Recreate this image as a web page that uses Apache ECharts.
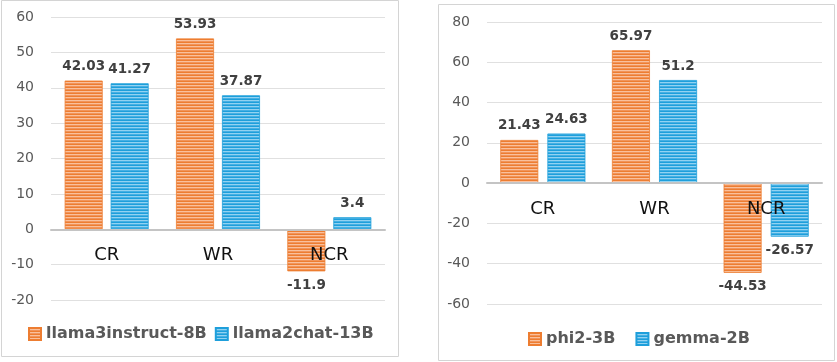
<!DOCTYPE html>
<html>
<head>
<meta charset="utf-8">
<script src="https://cdn.jsdelivr.net/npm/echarts@6/dist/echarts.min.js"></script>
<style>
  html, body { margin: 0; padding: 0; background: #fff; }
  #chart { width: 837px; height: 362px; }
</style>
</head>
<body>
<div id="chart"></div>
<script>
const categories = ['CR', 'WR', 'NCR']

const leftNames = ['llama3instruct-8B', 'llama2chat-13B']
const llama3Values = [42.03, 53.93, -11.9]
const llama2Values = [41.27, 37.87, 3.4]

const rightNames = ['phi2-3B', 'gemma-2B']
const phi2Values = [21.43, 65.97, -44.53]
const gemmaValues = [24.63, 51.2, -26.57]

// striped fill like the excel pattern
function stripes (rows) {
  const c = document.createElement('canvas')
  c.width = 4
  c.height = rows.length
  const ctx = c.getContext('2d')
  rows.forEach((col, i) => {
    ctx.fillStyle = col
    ctx.fillRect(0, i, 4, 1)
  })
  return { image: c, repeat: 'repeat' }
}

const orange = stripes(['#ED7D31', '#F9C09C', '#F19359'])
const blue = stripes(['#1E9FDB', '#92D2F1', '#45AFE3'])

const font = 'DejaVu Sans'

function valueAxis (idx, min, max, interval) {
  return {
    type: 'value',
    gridIndex: idx,
    min: min,
    max: max,
    interval: interval,
    axisLine: { show: false },
    axisTick: { show: false },
    axisLabel: { color: '#595959', fontSize: 14, fontFamily: font, margin: 17 },
    splitLine: { lineStyle: { color: '#E0E0E0', width: 1 } }
  }
}

// category axis moved up to the zero line with offset
function catAxis (idx, offset) {
  return {
    type: 'category',
    gridIndex: idx,
    data: categories,
    offset: offset,
    axisLine: { onZero: false, lineStyle: { color: '#C4C4C4', width: 2 } },
    axisTick: { show: false },
    axisLabel: { color: '#111', fontSize: 18, fontFamily: font, margin: 17 },
    z: 10
  }
}

function barSeries (name, data, fill, border, idx, gap) {
  return {
    name: name,
    type: 'bar',
    xAxisIndex: idx,
    yAxisIndex: idx,
    data: data,
    barWidth: 38,
    barGap: gap,
    z: 2,
    itemStyle: { color: fill, borderColor: border, borderWidth: 0.8 },
    label: {
      show: true,
      position: 'outside',
      distance: 7,
      color: '#404040',
      fontSize: 13.5,
      fontWeight: 'bold',
      fontFamily: font
    }
  }
}

const chart = echarts.init(document.getElementById('chart'))
chart.setOption({
  animation: false,
  graphic: [
    { type: 'rect', shape: { x: 1.5, y: 0.5, width: 397, height: 356 }, style: { fill: 'none', stroke: '#D4D4D4', lineWidth: 1 }, z: -1 },
    { type: 'rect', shape: { x: 438.5, y: 4.5, width: 396, height: 356 }, style: { fill: 'none', stroke: '#D4D4D4', lineWidth: 1 }, z: -1 }
  ],
  grid: [
    { left: 51, top: 17, width: 334, height: 283 },
    { left: 487, top: 22, width: 335, height: 282 }
  ],
  legend: [
    {
      data: leftNames,
      left: 23,
      top: 321,
      icon: 'rect',
      itemWidth: 12,
      itemHeight: 12,
      itemGap: 8,
      textStyle: { color: '#595959', fontSize: 16, fontWeight: 'bold', fontFamily: font }
    },
    {
      data: rightNames,
      left: 523,
      top: 326,
      icon: 'rect',
      itemWidth: 12,
      itemHeight: 12,
      itemGap: 20,
      textStyle: { color: '#595959', fontSize: 16, fontWeight: 'bold', fontFamily: font }
    }
  ],
  xAxis: [catAxis(0, -70.75), catAxis(1, -120.86)],
  yAxis: [valueAxis(0, -20, 60, 10), valueAxis(1, -60, 80, 20)],
  series: [
    barSeries(leftNames[0], llama3Values, orange, '#ED7D31', 0, '21%'),
    barSeries(leftNames[1], llama2Values, blue, '#1E9FDB', 0, '21%'),
    barSeries(rightNames[0], phi2Values, orange, '#ED7D31', 1, '24%'),
    barSeries(rightNames[1], gemmaValues, blue, '#1E9FDB', 1, '24%')
  ]
})
</script>
</body>
</html>
